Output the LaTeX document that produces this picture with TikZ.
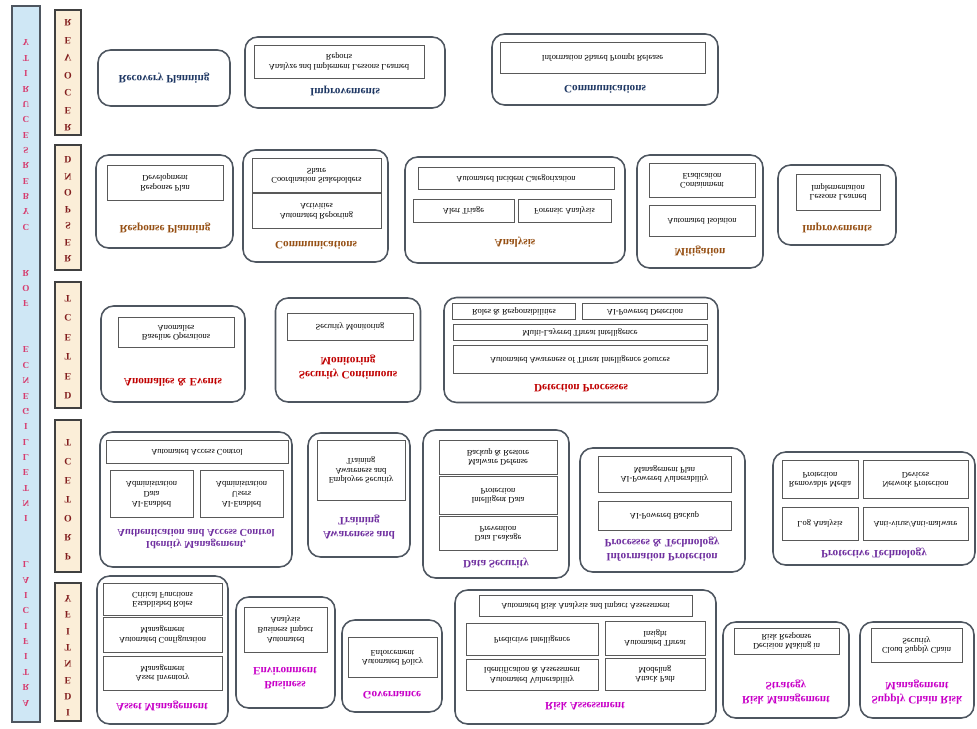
\documentclass[tikz,border=0pt]{standalone}
\usepackage{fontspec}
\setmainfont{Liberation Serif}
\usepackage{graphicx}
\usepackage{tikz}
\definecolor{barblue}{RGB}{207,231,245}
\definecolor{bandtan}{RGB}{251,238,216}
\definecolor{edgegray}{RGB}{78,86,96}
\definecolor{rcvcol}{RGB}{31,56,100}
\definecolor{rspcol}{RGB}{150,80,20}
\definecolor{detcol}{RGB}{192,0,0}
\definecolor{procol}{RGB}{112,48,160}
\definecolor{idcol}{RGB}{200,0,200}
\definecolor{ltrred}{RGB}{130,30,30}
\definecolor{barpink}{RGB}{214,60,110}
% the whole chart is printed mirrored top to bottom
\newcommand\upside[1]{\scalebox{1}[-1]{\begin{tabular}{@{}c@{}}#1\end{tabular}}}

\begin{document}
\begin{tikzpicture}[
    x=0.025cm, y=-0.025cm,
    sz/.style 2 args={minimum width=#1*0.025cm, minimum height=#2*0.025cm},
    grp/.style={draw=edgegray, line width=1.1pt, rounded corners=9pt, fill=white, inner sep=0pt},
    item/.style={draw=gray!70!black, line width=0.5pt, fill=white, inner sep=0pt, font=\fontsize{6}{7}\selectfont},
    ttl/.style={font=\fontsize{8}{9.5}\selectfont\bfseries, inner sep=0pt},
    bar/.style={draw=edgegray, line width=1.2pt, fill=barblue, inner sep=0pt},
    band/.style={draw=black!75, line width=1pt, fill=bandtan, inner sep=0pt},
    bandltr/.style={font=\fontsize{7}{8}\selectfont\bfseries, text=ltrred, inner sep=0pt},
    barltr/.style={font=\fontsize{6.5}{7}\selectfont\bfseries, text=barpink, inner sep=0pt},
]
    \useasboundingbox (0,0) rectangle (977,728);

    % Title bar
    \node[bar, sz={28}{716}] (bar) at (26,364) {};
    \foreach \c [count=\i] in {A,R,T,I,F,I,C,I,A,L,{},{},I,N,T,E,L,L,I,G,E,N,C,E,{},{},F,O,R,{},{},C,Y,B,E,R,S,E,C,U,R,I,T,Y}
        \node[barltr] (bar-\i) at (26,{702-(\i-1)*15.35}) {\upside{\c}};

    % Function bands
    \node[band, sz={26}{125}] (rcv) at (68,72.5) {};
    \node[band, sz={26}{125}] (rsp) at (68,207.5) {};
    \node[band, sz={26}{126}] (det) at (68,345) {};
    \node[band, sz={26}{152}] (pro) at (68,496) {};
    \node[band, sz={26}{138}] (idt) at (68,652) {};
    \foreach \c [count=\i] in {R,E,C,O,V,E,R}
        \node[bandltr] (rcv-\i) at (68,{127-(\i-1)*17.5}) {\upside{\c}};
    \foreach \c [count=\i] in {R,E,S,P,O,N,D}
        \node[bandltr] (rsp-\i) at (68,{258-(\i-1)*16.5}) {\upside{\c}};
    \foreach \c [count=\i] in {D,E,T,E,C,T}
        \node[bandltr] (det-\i) at (68,{395-(\i-1)*19.5}) {\upside{\c}};
    \foreach \c [count=\i] in {P,R,O,T,E,C,T}
        \node[bandltr] (pro-\i) at (68,{556-(\i-1)*19}) {\upside{\c}};
    \foreach \c [count=\i] in {I,D,E,N,T,I,F,Y}
        \node[bandltr] (idt-\i) at (68,{712-(\i-1)*16.3}) {\upside{\c}};

    % Recover
    \node[grp, sz={132}{56}, ttl, text=rcvcol] (rpln) at (164,78) {\upside{Recovery Planning}};

    \node[grp, sz={200}{71}] (rimp) at (345,72.5) {};
    \node[item, sz={170}{33}] (rimp-a) at (339,61.5) {\upside{Analyze and Implement Lessons Learned\\Reports}};
    \node[ttl, text=rcvcol] (rimp-t) at (345,91) {\upside{Improvements}};

    \node[grp, sz={226}{71}] (rcom) at (605,69.5) {};
    \node[item, sz={205}{31}] (rcom-a) at (602.5,57.5) {\upside{Information Shared Prompt Release}};
    \node[ttl, text=rcvcol] (rcom-t) at (605,88) {\upside{Communications}};

    % Respond
    \node[grp, sz={137}{93}] (rspl) at (164.5,201.5) {};
    \node[item, sz={116}{35}] (rspl-a) at (165,182.5) {\upside{Response Plan\\Development}};
    \node[ttl, text=rspcol] (rspl-t) at (165,228) {\upside{Response Planning}};

    \node[grp, sz={145}{112}] (rcmm) at (315.5,206) {};
    \node[item, sz={129}{34}] (rcmm-a) at (316.5,175) {\upside{Coordination Stakeholders\\Share}};
    \node[item, sz={129}{35}] (rcmm-b) at (316.5,210.5) {\upside{Automated Reporting\\Activities}};
    \node[ttl, text=rspcol] (rcmm-t) at (316,244) {\upside{Communications}};

    \node[grp, sz={220}{106}] (anly) at (515,210) {};
    \node[item, sz={196}{22}] (anly-a) at (516,178) {\upside{Automated Incident Categorization}};
    \node[item, sz={101}{23}] (anly-b) at (463.5,210.5) {\upside{Alert Triage}};
    \node[item, sz={93}{23}] (anly-c) at (564.5,210.5) {\upside{Forensic Analysis}};
    \node[ttl, text=rspcol] (anly-t) at (515,242) {\upside{Analysis}};

    \node[grp, sz={126}{113}] (mitg) at (700,211.5) {};
    \node[item, sz={106}{34}] (mitg-a) at (702,180) {\upside{Containment\\Eradication}};
    \node[item, sz={106}{31}] (mitg-b) at (702,220.5) {\upside{Automated Isolation}};
    \node[ttl, text=rspcol] (mitg-t) at (700,251) {\upside{Mitigation}};

    \node[grp, sz={118}{80}] (rimq) at (837,205) {};
    \node[item, sz={84}{36}] (rimq-a) at (838,192) {\upside{Lessons Learned\\Implementation}};
    \node[ttl, text=rspcol] (rimq-t) at (837,228) {\upside{Improvements}};

    % Detect
    \node[grp, sz={144}{96}] (anom) at (173,354) {};
    \node[item, sz={116}{30}] (anom-a) at (176,332) {\upside{Baseline Operations\\Anomalies}};
    \node[ttl, text=detcol] (anom-t) at (173,381) {\upside{Anomalies \& Events}};

    \node[grp, sz={145}{104}] (scmn) at (348,350) {};
    \node[item, sz={126}{27}] (scmn-a) at (350,326.5) {\upside{Security Monitoring}};
    \node[ttl, text=detcol] (scmn-t) at (348,367) {\upside{Security Continuous\\Monitoring}};

    \node[grp, sz={274}{105}] (dtpr) at (581,350) {};
    \node[item, sz={123}{16}] (dtpr-a) at (514,311) {\upside{Roles \& Responsibilities}};
    \node[item, sz={125}{16}] (dtpr-b) at (645,311) {\upside{AI-Powered Detection}};
    \node[item, sz={254}{16}] (dtpr-c) at (580,332) {\upside{Multi-Layered Threat Intelligence}};
    \node[item, sz={254}{28}] (dtpr-d) at (580,359) {\upside{Automated Awareness of Threat Intelligence Sources}};
    \node[ttl, text=detcol] (dtpr-t) at (581,387) {\upside{Detection Processes}};

    % Protect
    \node[grp, sz={192}{135}] (idac) at (196,499.5) {};
    \node[item, sz={182}{23}] (idac-a) at (197,451.5) {\upside{Automated Access Control}};
    \node[item, sz={83}{47}] (idac-b) at (151.5,493.5) {\upside{AI-Enabled\\Data\\Administration}};
    \node[item, sz={83}{47}] (idac-c) at (241.5,493.5) {\upside{AI-Enabled\\Users\\Administration}};
    \node[ttl, font=\fontsize{7.5}{9}\selectfont\bfseries, text=procol] (idac-t) at (196,538) {\upside{Identity Management,\\Authentication and Access Control}};

    \node[grp, sz={102}{124}] (awtr) at (359,495) {};
    \node[item, sz={88}{60}] (awtr-a) at (361,470) {\upside{Employee Security\\Awareness and\\Training}};
    \node[ttl, text=procol] (awtr-t) at (359,527) {\upside{Awareness and\\Training}};

    \node[grp, sz={146}{148}] (dsec) at (496,504) {};
    \node[item, sz={118}{34}] (dsec-a) at (498,457) {\upside{Malware Defense\\Backup \& Restore}};
    \node[item, sz={118}{38}] (dsec-b) at (498,495) {\upside{Intelligent Data\\Protection}};
    \node[item, sz={118}{34}] (dsec-c) at (498,533) {\upside{Data Leakage\\Prevention}};
    \node[ttl, text=procol] (dsec-t) at (496,563) {\upside{Data Security}};

    \node[grp, sz={165}{124}] (iprt) at (662.5,510) {};
    \node[item, sz={133}{36}] (iprt-a) at (664.5,474) {\upside{AI-Powered Vulnerability\\Management Plan}};
    \node[item, sz={133}{29}] (iprt-b) at (664.5,515.5) {\upside{AI-Powered Backup}};
    \node[ttl, text=procol] (iprt-t) at (662,549) {\upside{Information Protection\\Processes \& Technology}};

    \node[grp, sz={202}{113}] (ptec) at (874,508.5) {};
    \node[item, sz={76}{38}] (ptec-a) at (820,479) {\upside{Removable Media\\Protection}};
    \node[item, sz={105}{38}] (ptec-b) at (915.5,479) {\upside{Network Protection\\Devices}};
    \node[item, sz={76}{33}] (ptec-c) at (820,523.5) {\upside{Log Analysis}};
    \node[item, sz={105}{33}] (ptec-d) at (915.5,523.5) {\upside{Anti-virus/Anti-malware}};
    \node[ttl, text=procol] (ptec-t) at (874,553) {\upside{Protective Technology}};

    % Identify
    \node[grp, sz={131}{148}] (asmg) at (162.5,650) {};
    \node[item, sz={119}{32}] (asmg-a) at (162.5,599) {\upside{Established Roles\\Critical Functions}};
    \node[item, sz={119}{35}] (asmg-b) at (162.5,634.5) {\upside{Automated Configuration\\Management}};
    \node[item, sz={119}{34}] (asmg-c) at (162.5,673) {\upside{Asset Inventory\\Management}};
    \node[ttl, text=idcol] (asmg-t) at (162,706) {\upside{Asset Management}};

    \node[grp, sz={99}{111}] (bsen) at (285.5,652.5) {};
    \node[item, sz={83}{45}] (bsen-a) at (285.5,629.5) {\upside{Automated\\Business Impact\\Analysis}};
    \node[ttl, text=idcol] (bsen-t) at (285,677) {\upside{Business\\Environment}};

    \node[grp, sz={100}{92}] (govn) at (392,666) {};
    \node[item, sz={89}{40}] (govn-a) at (392.5,657) {\upside{Automated Policy\\Enforcement}};
    \node[ttl, text=idcol] (govn-t) at (392,694) {\upside{Governance}};

    \node[grp, sz={261}{134}] (rsas) at (585.5,657) {};
    \node[item, sz={213}{21}] (rsas-a) at (585.5,605.5) {\upside{Automated Risk Analysis and Impact Assessment}};
    \node[item, sz={132}{32}] (rsas-b) at (532,639) {\upside{Predictive Intelligence}};
    \node[item, sz={132}{31}] (rsas-c) at (532,674.5) {\upside{Automated Vulnerability\\Identification \& Assessment}};
    \node[item, sz={100}{34}] (rsas-d) at (655,638) {\upside{Automated Threat\\Insight}};
    \node[item, sz={100}{32}] (rsas-e) at (655,674) {\upside{Attack Path\\Modeling}};
    \node[ttl, text=idcol] (rsas-t) at (585,705) {\upside{Risk Assessment}};

    \node[grp, sz={126}{96}] (rmst) at (786,670) {};
    \node[item, sz={105}{26}] (rmst-a) at (786.5,641) {\upside{Decision Making in\\Risk Response}};
    \node[ttl, text=idcol] (rmst-t) at (786,692) {\upside{Risk Management\\Strategy}};

    \node[grp, sz={114}{96}] (scrm) at (917,670) {};
    \node[item, sz={91}{34}] (scrm-a) at (916.5,645) {\upside{Cloud Supply Chain\\Security}};
    \node[ttl, text=idcol] (scrm-t) at (917,692) {\upside{Supply Chain Risk\\Management}};
\end{tikzpicture}
\end{document}
